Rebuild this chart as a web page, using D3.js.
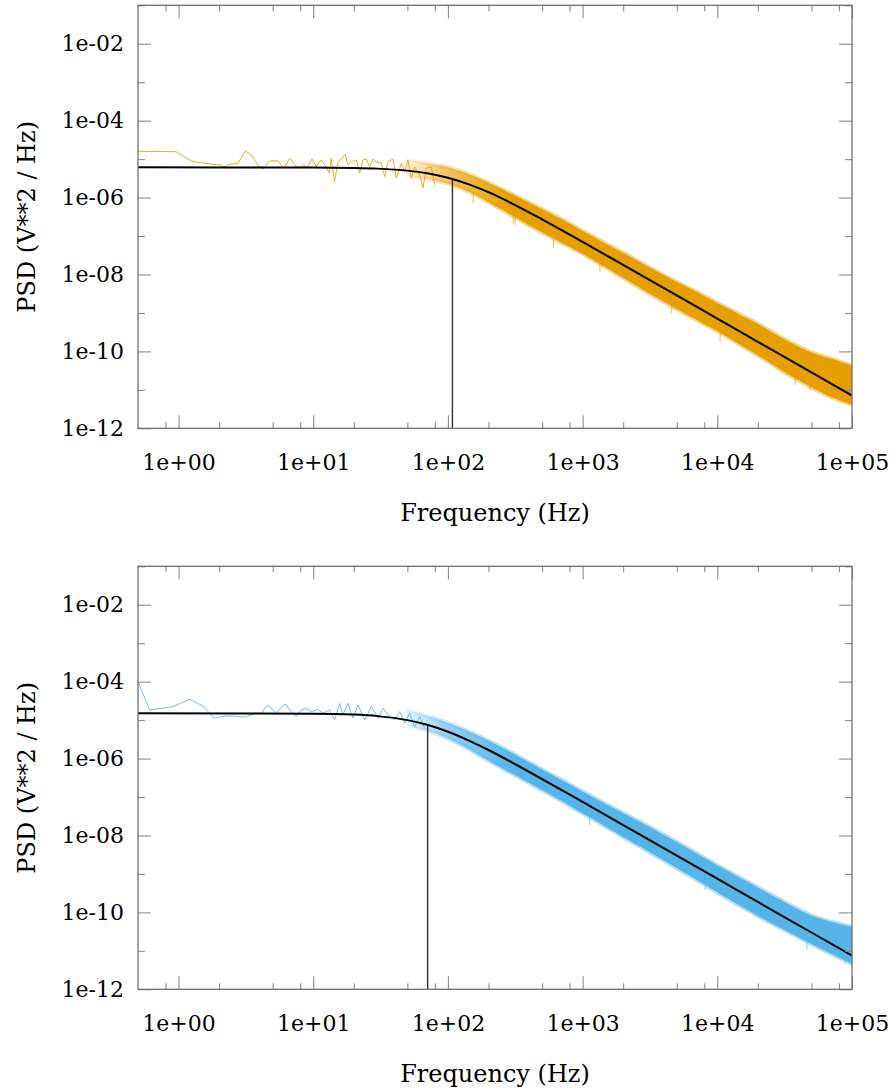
<!DOCTYPE html>
<html>
<head>
<meta charset="utf-8">
<script src="https://cdn.jsdelivr.net/npm/d3@7"></script>
<style>
  body { margin: 0; background: #fff; }
  text { font-family: "DejaVu Serif", serif; fill: #000; }
</style>
</head>
<body>
<svg id="chart" width="890" height="1090"></svg>
<script>
// ---- data ----
var xDomain = [0.5, 1e5],
    yDomain = [1e-12, 1e-1];

var xMajor = [1, 10, 100, 1e3, 1e4, 1e5],
    xMinor = [0.8, 2, 5, 8, 20, 50, 80, 200, 500, 800, 2e3, 5e3, 8e3, 2e4, 5e4, 8e4],
    yMajor = [1e-12, 1e-10, 1e-8, 1e-6, 1e-4, 1e-2],
    yMinor = [1e-11, 1e-9, 1e-7, 1e-5, 1e-3, 1e-1];

// top panel: low-frequency trace
var topLowF = [0.5, 0.96, 1.24, 1.56, 2.02, 2.2, 2.4, 2.76, 3.13, 3.47, 3.89, 4.24, 4.75, 5.47,
               6.04, 6.69, 7.28, 7.93, 8.53, 8.99, 9.79, 10.5, 11.4, 12.2, 13.2, 13.6, 14.4, 15.3,
               16.2, 17.3, 18.1, 19.2, 20.9, 22.1, 23.4, 24.8, 26.2, 27.8, 29.4, 32.0, 33.9, 35.9,
               39.1, 41.4, 45.1, 47.8, 50.5, 53.5, 56.6, 61.7, 65.3, 69.0, 75.2, 79.8];
var topLowP = [1.6e-5, 1.56e-5, 8.95e-6, 7.8e-6, 7.05e-6, 6.25e-6, 7.35e-6, 7.8e-6, 1.63e-5, 1.28e-5,
               6.76e-6, 5.55e-6, 8.95e-6, 9.1e-6, 5.78e-6, 1.05e-5, 7.05e-6, 5.78e-6, 7.35e-6, 5.9e-6,
               1.01e-5, 6.35e-6, 9.6e-6, 7.05e-6, 4.29e-6, 1.05e-5, 2.6e-6, 8.6e-6, 1.01e-5, 1.34e-5,
               7.05e-6, 8.6e-6, 9.5e-6, 4.3e-6, 9.5e-6, 1.01e-5, 6.25e-6, 1.01e-5, 8.6e-6, 7.8e-6,
               3.5e-6, 8.6e-6, 1.01e-5, 3.24e-6, 7.8e-6, 4.72e-6, 9.5e-6, 3.24e-6, 6.3e-6, 3.87e-6,
               1.78e-6, 5.78e-6, 6.25e-6, 2.13e-6];

// envelope of the dense part (same frequencies for both panels)
var bandF = [50, 70, 100, 150, 200, 300, 500, 700, 1e3, 1.5e3, 2e3, 3e3, 5e3, 7e3,
             1e4, 1.5e4, 2e4, 3e4, 5e4, 7e4, 1e5];
var topUpper = [9.73e-6, 7.8e-6, 6.14e-6, 3.78e-6, 2.43e-6, 1.22e-6, 4.97e-7, 2.74e-7, 1.36e-7, 6.25e-8,
                3.65e-8, 1.66e-8, 6.38e-9, 3.57e-9, 1.8e-9, 8.73e-10, 5.22e-10, 2.26e-10, 9.42e-11,
                6.5e-11, 4.3e-11];
var topLower = [3.52e-6, 2.99e-6, 2.29e-6, 1.29e-6, 7.55e-7, 3.4e-7, 1.25e-7, 6.71e-8, 3.44e-8, 1.49e-8,
                8.17e-9, 3.51e-9, 1.27e-9, 6.67e-10, 3.37e-10, 1.45e-10, 7.93e-11, 3.22e-11, 1.16e-11,
                6.47e-12, 4.16e-12];
// downward spikes below the band
var topSpikeF = [154, 305, 315, 395, 606, 1345, 4580, 10500, 37800, 48800];
var topSpikeP = [7.1e-7, 2.1e-7, 1.94e-7, 1.75e-7, 4.8e-8, 1.18e-8, 9.8e-10, 1.79e-10, 1.34e-11, 9.9e-12];

// fit curves sampled
var fitF = [0.5, 10, 20, 30, 50, 70, 100, 150, 200, 300, 500, 1e3, 2e3, 5e3, 1e4, 2e4, 5e4, 1e5];
var topFit = [6.1e-6, 6.05e-6, 5.9e-6, 5.66e-6, 5.02e-6, 4.3e-6, 3.28e-6, 2.08e-6, 1.38e-6, 7.0e-7,
              2.72e-7, 7.04e-8, 1.77e-8, 2.85e-9, 7.11e-10, 1.78e-10, 2.85e-11, 7.12e-12];
var topCorner = [108, 3.05e-6];

// bottom panel
var botLowF = [0.5, 0.61, 0.91, 1.21, 1.52, 1.83, 2.2, 2.54, 3.1, 3.78, 4.11, 4.56, 5.32, 6.21, 6.87,
               7.48, 8.15, 8.87, 9.68, 10.8, 11.8, 13.2, 14.4, 15.7, 16.6, 18.1, 19.7, 21.5, 24.1,
               27.0, 30.3, 33.0, 35.9, 40.3, 43.9, 47.8, 52.0, 56.6, 61.7, 67.2];
var botLowP = [1e-4, 1.84e-5, 2.24e-5, 3.48e-5, 2.33e-5, 1.12e-5, 1.28e-5, 1.28e-5, 1.19e-5, 1.51e-5,
               1.51e-5, 2.48e-5, 1.56e-5, 2.63e-5, 1.66e-5, 1.23e-5, 1.84e-5, 2.03e-5, 1.66e-5, 1.91e-5,
               1.51e-5, 1.84e-5, 1.01e-5, 2.74e-5, 1.36e-5, 2.74e-5, 1.12e-5, 2.48e-5, 1.01e-5, 2.24e-5,
               1.12e-5, 2.03e-5, 1.36e-5, 1.01e-5, 1.66e-5, 8.28e-6, 1.51e-5, 6.76e-6, 1.23e-5, 6.14e-6];
var botUpper = [1.82e-5, 1.3e-5, 8.59e-6, 4.69e-6, 2.94e-6, 1.39e-6, 5.18e-7, 2.76e-7, 1.4e-7, 6.44e-8,
                3.85e-8, 1.82e-8, 6.73e-9, 3.44e-9, 1.68e-9, 7.71e-10, 4.47e-10, 2.05e-10, 8.3e-11,
                5.73e-11, 4.25e-11];
var botLower = [6.97e-6, 5.28e-6, 3.3e-6, 1.6e-6, 8.87e-7, 4.07e-7, 1.52e-7, 7.85e-8, 3.76e-8, 1.67e-8,
                9.14e-9, 4.07e-9, 1.42e-9, 7.05e-10, 3.33e-10, 1.44e-10, 8.11e-11, 3.84e-11, 1.51e-11,
                8.43e-12, 4.63e-12];
var botSpikeF = [150, 230, 480, 1130, 8150, 15200, 46300, 89000];
var botSpikeP = [2.04e-6, 6.8e-7, 1.52e-7, 1.87e-8, 3.83e-10, 1.28e-10, 1.05e-11, 4.7e-12];
var botFit = [1.5e-5, 1.47e-5, 1.39e-5, 1.27e-5, 1.0e-5, 7.57e-6, 5.0e-6, 2.73e-6, 1.67e-6, 7.9e-7,
              2.94e-7, 7.46e-8, 1.87e-8, 3.0e-9, 7.5e-10, 1.87e-10, 3.0e-11, 7.5e-12];
var botCorner = [70.7, 7.5e-6];

// ---- layout ----
var left = 138, right = 852,
    panelH = 423,
    panelTop = [5.3, 566.3];

var svg = d3.select('#chart');

function expFmt(d) {
    var e = Math.round(Math.log10(d));
    var a = Math.abs(e);
    return '1e' + (e < 0 ? '-' : '+') + (a < 10 ? '0' + a : a);
}

function zip(a, b) { return a.map(function(v, i) { return [v, b[i]]; }); }

function drawPanel(idx, s) {
    var top = panelTop[idx];
    var g = svg.append('g').attr('transform', 'translate(0,' + top + ')');

    var x = d3.scaleLog().domain(xDomain).range([left, right]);
    var y = d3.scaleLog().domain(yDomain).range([panelH, 0]);

    var clipId = 'clip' + idx;
    var defs = g.append('defs');
    defs.append('clipPath').attr('id', clipId)
        .append('rect').attr('x', left).attr('y', 0).attr('width', right - left).attr('height', panelH);

    // the dense band fades in where the trace is still a single wiggly line
    var gradId = 'grad' + idx;
    var grad = defs.append('linearGradient')
        .attr('id', gradId).attr('gradientUnits', 'userSpaceOnUse')
        .attr('x1', x(50)).attr('x2', x(300)).attr('y1', 0).attr('y2', 0);
    grad.append('stop').attr('offset', '0%').attr('stop-color', s.color).attr('stop-opacity', 0.15);
    grad.append('stop').attr('offset', '35%').attr('stop-color', s.color).attr('stop-opacity', 0.6);
    grad.append('stop').attr('offset', '100%').attr('stop-color', s.color).attr('stop-opacity', 1);

    var plot = g.append('g').attr('clip-path', 'url(#' + clipId + ')');

    var area = d3.area()
        .curve(d3.curveMonotoneX)
        .x(function(d) { return x(d[0]); })
        .y0(function(d) { return y(d[2]); })
        .y1(function(d) { return y(d[1]); });
    var bandData = bandF.map(function(f, i) { return [f, s.upper[i], s.lower[i]]; });

    // soft fringe, then the solid core
    plot.append('path')
        .datum(bandData)
        .attr('d', area)
        .attr('fill', 'none')
        .attr('stroke', 'url(#' + gradId + ')')
        .attr('stroke-opacity', 0.45)
        .attr('stroke-width', 4);
    plot.append('path')
        .datum(bandData)
        .attr('d', area)
        .attr('fill', 'url(#' + gradId + ')');

    // spikes hanging below the band
    var lowerAt = d3.scaleLog().domain(bandF).range(s.lower.map(function(v) { return y(v); }));
    plot.append('g').selectAll('line')
        .data(zip(s.spikeF, s.spikeP))
        .enter().append('line')
        .attr('x1', function(d) { return x(d[0]); })
        .attr('x2', function(d) { return x(d[0]); })
        .attr('y1', function(d) { return lowerAt(d[0]) - 2; })
        .attr('y2', function(d) { return y(d[1]); })
        .attr('stroke', s.color)
        .attr('stroke-opacity', 0.6)
        .attr('stroke-width', 1.2);

    var line = d3.line()
        .x(function(d) { return x(d[0]); })
        .y(function(d) { return y(d[1]); });

    plot.append('path')
        .datum(zip(s.lowF, s.lowP))
        .attr('d', line)
        .attr('fill', 'none')
        .attr('stroke', s.color)
        .attr('stroke-opacity', 0.85)
        .attr('stroke-width', 1);

    // corner frequency marker
    plot.append('line')
        .attr('x1', x(s.corner[0])).attr('x2', x(s.corner[0]))
        .attr('y1', y(yDomain[0])).attr('y2', y(s.corner[1]))
        .attr('stroke', '#333').attr('stroke-width', 1.4);

    // fit
    plot.append('path')
        .datum(zip(fitF, s.fit))
        .attr('d', line.curve(d3.curveMonotoneX))
        .attr('fill', 'none')
        .attr('stroke', '#000')
        .attr('stroke-width', 2);

    // axes: ticks point inward on all four sides
    function style(a) {
        a.select('.domain').remove();
        a.selectAll('.tick line').attr('stroke', '#8c8c8c').attr('stroke-width', 1.1);
        a.selectAll('.tick text').attr('fill', '#000')
         .style('font-family', '"DejaVu Serif", serif').style('font-size', '22px');
    }
    g.append('g').attr('transform', 'translate(0,' + panelH + ')')
        .call(d3.axisBottom(x).tickValues(xMajor).tickSize(-13).tickPadding(26).tickFormat(expFmt))
        .call(style);
    g.append('g').attr('transform', 'translate(0,' + panelH + ')')
        .call(d3.axisBottom(x).tickValues(xMinor).tickSize(-6).tickFormat(''))
        .call(style);
    g.append('g')
        .call(d3.axisTop(x).tickValues(xMajor).tickSize(-13).tickFormat(''))
        .call(style);
    g.append('g')
        .call(d3.axisTop(x).tickValues(xMinor).tickSize(-6).tickFormat(''))
        .call(style);

    g.append('g').attr('transform', 'translate(' + left + ',0)')
        .call(d3.axisLeft(y).tickValues(yMajor).tickSize(-13).tickPadding(14).tickFormat(expFmt))
        .call(style);
    g.append('g').attr('transform', 'translate(' + left + ',0)')
        .call(d3.axisLeft(y).tickValues(yMinor).tickSize(-7).tickFormat(''))
        .call(style);
    g.append('g').attr('transform', 'translate(' + right + ',0)')
        .call(d3.axisRight(y).tickValues(yMajor).tickSize(-13).tickFormat(''))
        .call(style);
    g.append('g').attr('transform', 'translate(' + right + ',0)')
        .call(d3.axisRight(y).tickValues(yMinor).tickSize(-7).tickFormat(''))
        .call(style);

    g.append('rect')
        .attr('x', left).attr('y', 0)
        .attr('width', right - left).attr('height', panelH)
        .attr('fill', 'none').attr('stroke', '#707070').attr('stroke-width', 1.3);

    // axis titles
    g.append('text')
        .attr('x', (left + right) / 2).attr('y', panelH + 93)
        .attr('text-anchor', 'middle')
        .style('font-size', '24px')
        .text('Frequency (Hz)');
    g.append('text')
        .attr('transform', 'translate(35,' + panelH / 2 + ') rotate(-90)')
        .attr('text-anchor', 'middle')
        .style('font-size', '24px')
        .text('PSD (V**2 / Hz)');
}

drawPanel(0, { color: '#E69F00', lowF: topLowF, lowP: topLowP, upper: topUpper, lower: topLower,
               spikeF: topSpikeF, spikeP: topSpikeP, fit: topFit, corner: topCorner });
drawPanel(1, { color: '#56B4E9', lowF: botLowF, lowP: botLowP, upper: botUpper, lower: botLower,
               spikeF: botSpikeF, spikeP: botSpikeP, fit: botFit, corner: botCorner });
</script>
</body>
</html>
